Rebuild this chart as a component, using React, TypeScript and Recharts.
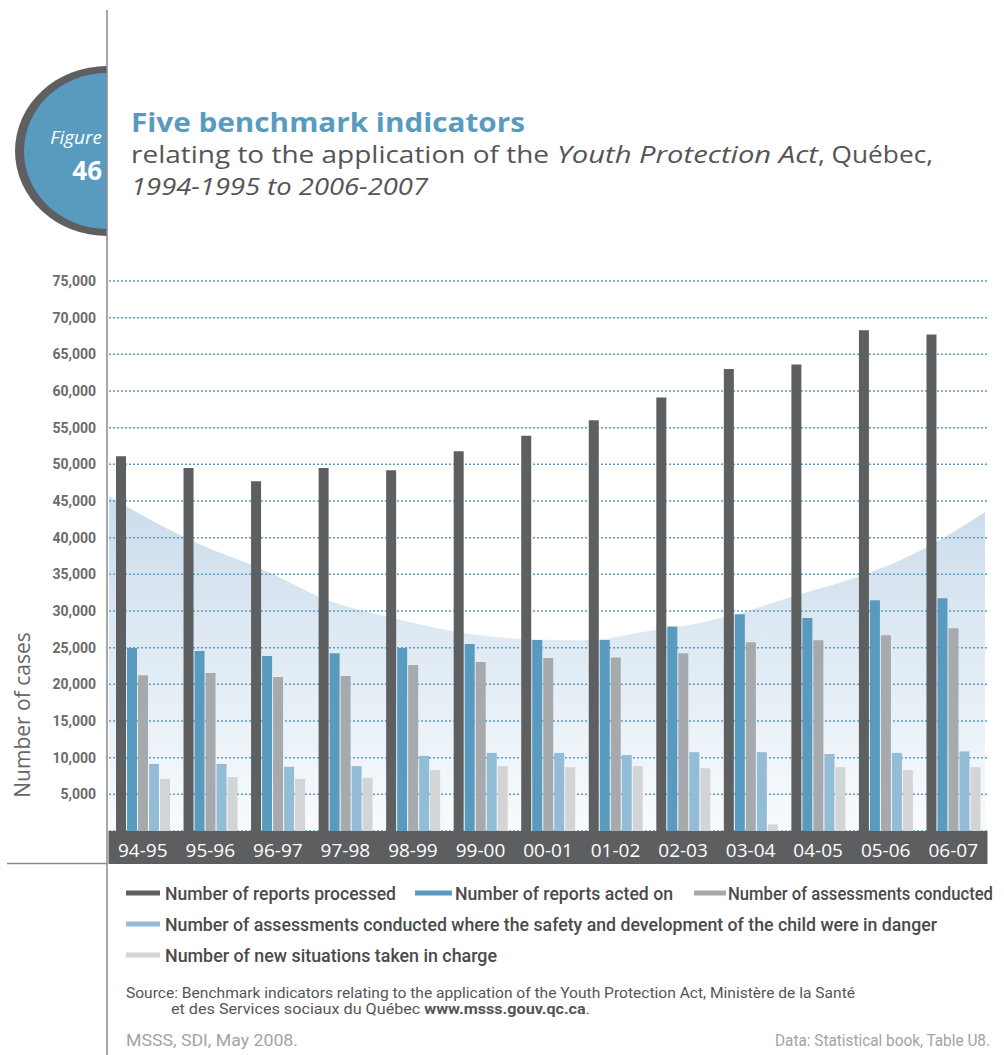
import React from 'react';
import { ComposedChart, Bar, Area, XAxis, YAxis, CartesianGrid } from 'recharts';

// seasons on the x axis
const seasons = ['94-95', '95-96', '96-97', '97-98', '98-99', '99-00', '00-01', '01-02', '02-03', '03-04', '04-05', '05-06', '06-07'];

// (number of cases)
const reportsProcessed = [51100, 49500, 47700, 49500, 49200, 51800, 53900, 56000, 59100, 63000, 63600, 68300, 67700];
const reportsActedOn = [24950, 24550, 23850, 24250, 24950, 25500, 26050, 26050, 27900, 29550, 29050, 31450, 31750];
const assessments = [21250, 21550, 21000, 21150, 22650, 23050, 23600, 23650, 24250, 25750, 26000, 26700, 27650];
const assessmentsDanger = [9150, 9150, 8750, 8850, 10250, 10650, 10650, 10350, 10750, 10750, 10500, 10650, 10850];
const newSituations = [7100, 7350, 7100, 7250, 8300, 8850, 8700, 8850, 8550, 900, 8700, 8300, 8700];

// decorative background swoosh (position in category units, height in cases)
const bgPos = [0, 1.29, 2.29, 3.29, 4.13, 5.11, 6.29, 7.03, 8.02, 8.76, 9.14, 10.13, 11.13, 11.73, 12.13, 12.97];
const bgTop = [45600, 39300, 35600, 31300, 29200, 27200, 26100, 26000, 27300, 28400, 29200, 32000, 34800, 37000, 38800, 43500];

const yTicks = [5000, 10000, 15000, 20000, 25000, 30000, 35000, 40000, 45000, 50000, 55000, 60000, 65000, 70000, 75000];

const series = [
  { key: 'processed', name: 'Number of reports processed', color: '#5e5f61' },
  { key: 'actedOn', name: 'Number of reports acted on', color: '#589bbf' },
  { key: 'assessed', name: 'Number of assessments conducted', color: '#a7aaad' },
  { key: 'danger', name: 'Number of assessments conducted where the safety and development of the child were in danger', color: '#93bcd6' },
  { key: 'newCases', name: 'Number of new situations taken in charge', color: '#d3d4d6' },
];

const chartData = seasons.map((season, i) => ({
  season,
  processed: reportsProcessed[i],
  actedOn: reportsActedOn[i],
  assessed: assessments[i],
  danger: assessmentsDanger[i],
  newCases: newSituations[i],
}));

const bgData = bgPos.map((pos, i) => ({ pos, top: bgTop[i] }));

const CHART_W = 1004;
const CHART_H = 870;
const MARGIN = { top: 281, right: 17, bottom: 6, left: 0 };
const Y_AXIS_W = 109;
const BAND_H = 33;
const bandW = (CHART_W - MARGIN.left - MARGIN.right - Y_AXIS_W) / seasons.length;

const sans = "'Open Sans', 'Noto Sans', sans-serif";
const narrow = "'Liberation Sans Narrow', 'Roboto', sans-serif";

const SeasonTick = ({ x, y, payload }: any) => (
  <g>
    <rect x={x - bandW / 2 - 0.5} y={y} width={bandW + 1} height={BAND_H} fill="#5d5e60" />
    <text x={x} y={y + 26} textAnchor="middle" fill="#ffffff" fontSize={19} fontFamily={sans}>
      {payload.value}
    </text>
  </g>
);

// legend layout: [series index, symbol x, symbol width, text x, row y, text width]
const legendItems = [
  [0, 126, 34, 165, 893, 231],
  [1, 415, 37, 455, 893, 218],
  [2, 694, 32, 728, 893, 265],
  [3, 126, 34, 165, 924, 772],
  [4, 126, 34, 165, 955, 332],
];

const Decorations: React.FC = () => (
  <svg width={CHART_W} height={1055} style={{ position: 'absolute', left: 0, top: 0 }}>
    <defs>
      <clipPath id="leftHalf">
        <rect x={0} y={0} width={107} height={300} />
      </clipPath>
    </defs>
    <g clipPath="url(#leftHalf)">
      <ellipse cx={107} cy={151} rx={92} ry={85} fill="#5e5f61" />
      <ellipse cx={107} cy={151} rx={83} ry={78} fill="#589bbf" />
    </g>
    <line x1={107} y1={10} x2={107} y2={1055} stroke="#8a8a8a" strokeWidth={1.5} />
    <line x1={7} y1={863.5} x2={107} y2={863.5} stroke="#8a8a8a" strokeWidth={1.5} />

    <text x={102} y={144} textAnchor="end" fill="#ffffff" fontSize={19} fontStyle="italic" fontFamily={sans}>Figure</text>
    <text x={102} y={180} textAnchor="end" fill="#ffffff" fontSize={26} fontWeight={700} fontFamily={sans}>46</text>

    <text x={131} y={132} fill="#589bbf" fontSize={27} fontWeight={700} fontFamily={sans} textLength={394} lengthAdjust="spacingAndGlyphs">
      Five benchmark indicators
    </text>
    <text x={131} y={163} fill="#555555" fontSize={23} fontFamily={sans} textLength={418} lengthAdjust="spacingAndGlyphs">
      relating to the application of the
    </text>
    <text x={557} y={163} fill="#555555" fontSize={23} fontStyle="italic" fontFamily={sans} textLength={261} lengthAdjust="spacingAndGlyphs">
      Youth Protection Act
    </text>
    <text x={818} y={163} fill="#555555" fontSize={23} fontFamily={sans} textLength={115} lengthAdjust="spacingAndGlyphs">
      , Québec,
    </text>
    <text x={131} y={195} fill="#555555" fontSize={23} fontStyle="italic" fontFamily={sans} textLength={297} lengthAdjust="spacingAndGlyphs">
      1994-1995 to 2006-2007
    </text>

    <text
      x={22}
      y={715}
      transform="rotate(-90, 22, 715)"
      textAnchor="middle"
      dominantBaseline="central"
      fill="#666666"
      fontSize={21}
      fontFamily={sans}
    >
      Number of cases
    </text>

    {legendItems.map(([idx, sx, sw, tx, ry, tw]) => (
      <g key={idx}>
        <rect x={sx} y={ry - 2.5} width={sw} height={5} fill={series[idx].color} />
        <text x={tx} y={ry + 7} fill="#4a4a4a" fontSize={idx === 2 ? 18 : 19} fontWeight={500} fontFamily={narrow} textLength={tw} lengthAdjust="spacingAndGlyphs">
          {series[idx].name}
        </text>
      </g>
    ))}

    <text x={126} y={998} fill="#555555" fontSize={14} fontFamily={narrow} textLength={729} lengthAdjust="spacingAndGlyphs">
      Source:  Benchmark indicators relating to the application of the Youth Protection Act, Ministère de la Santé
    </text>
    <text x={171} y={1014} fill="#555555" fontSize={14} fontFamily={narrow} textLength={419} lengthAdjust="spacingAndGlyphs">
      et des Services sociaux du Québec <tspan fontWeight={700}>www.msss.gouv.qc.ca</tspan>.
    </text>
    <text x={126} y={1046} fill="#a3a3a3" fontSize={16} fontFamily={narrow} textLength={172} lengthAdjust="spacingAndGlyphs">
      MSSS, SDI, May 2008.
    </text>
    <text x={990} y={1046} textAnchor="end" fill="#a3a3a3" fontSize={16} fontFamily={narrow} textLength={215} lengthAdjust="spacingAndGlyphs">
      Data: Statistical book, Table U8.
    </text>
  </svg>
);

const App: React.FC = () => {
  return (
    <div style={{ position: 'absolute', left: 0, top: 0, width: CHART_W, height: 1055, background: '#ffffff', overflow: 'hidden' }}>
      <Decorations />
      <div style={{ position: 'absolute', left: 0, top: 0 }}>
        <ComposedChart width={CHART_W} height={CHART_H} data={chartData} margin={MARGIN} barSize={10} barGap={1}>
          <defs>
            <linearGradient id="bgFill" x1="0" y1="0" x2="0" y2="1">
              <stop offset="0%" stopColor="#cbdcec" />
              <stop offset="100%" stopColor="#f8fbfd" />
            </linearGradient>
          </defs>
          <XAxis xAxisId="cat" dataKey="season" interval={0} axisLine={false} tickLine={false} tickSize={0} tickMargin={0} height={BAND_H} tick={<SeasonTick />} />
          <XAxis xAxisId="num" type="number" dataKey="pos" domain={[0, 13]} allowDataOverflow hide />
          <YAxis
            domain={[0, 75000]}
            ticks={yTicks}
            interval={0}
            width={Y_AXIS_W}
            axisLine={false}
            tickLine={false}
            tickSize={0}
            tickMargin={13}
            tickFormatter={(v: number) => v.toLocaleString('en-US')}
            tick={{ fill: '#6b6b6b', fontSize: 14, fontWeight: 700, fontFamily: 'Roboto, sans-serif' }}
          />
          <Area
            xAxisId="num"
            data={bgData}
            dataKey="top"
            type="monotone"
            stroke="none"
            fill="url(#bgFill)"
            fillOpacity={1}
            dot={false}
            activeDot={false}
            isAnimationActive={false}
            zIndex={-150}
          />
          <CartesianGrid vertical={false} stroke="#5b9dc6" strokeWidth={1.5} strokeDasharray="2 2" xAxisId="cat" />
          {series.map((s) => (
            <Bar key={s.key} xAxisId="cat" dataKey={s.key} name={s.name} fill={s.color} isAnimationActive={false} />
          ))}
        </ComposedChart>
      </div>
    </div>
  );
};

export default App;
